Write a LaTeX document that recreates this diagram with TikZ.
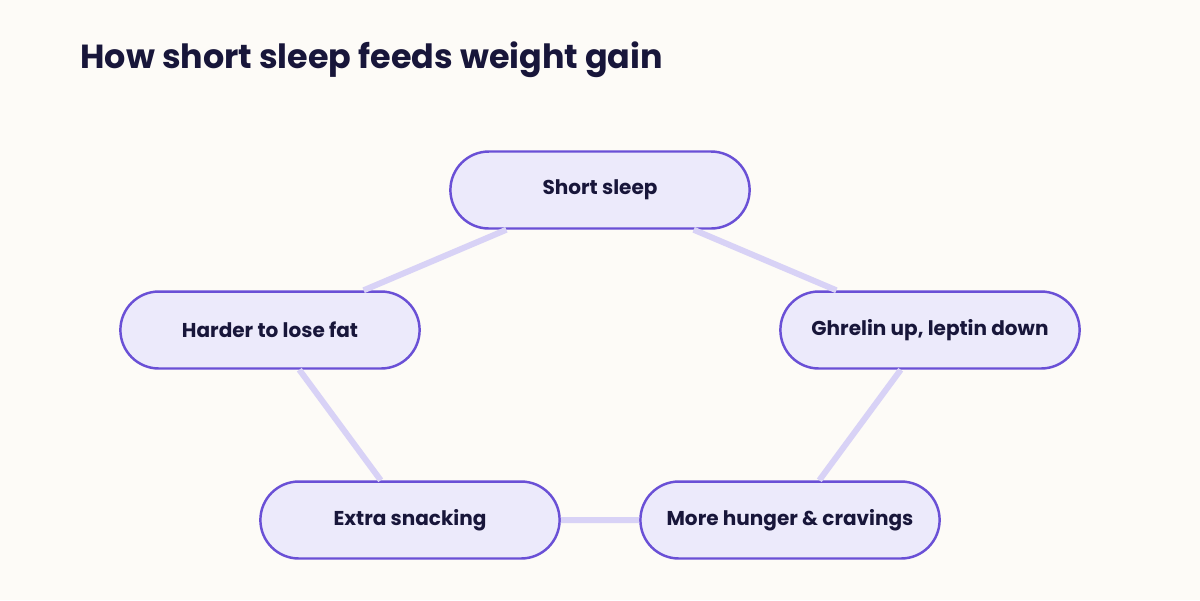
\documentclass[tikz,border=0pt]{standalone}
\usepackage{fontspec}
\setmainfont{Poppins}
\usetikzlibrary{shapes.misc}
\definecolor{bg_cream}{RGB}{253,251,247}
\definecolor{node_fill}{RGB}{236,234,251}
\definecolor{node_edge}{RGB}{106,80,214}
\definecolor{link_lav}{RGB}{216,210,246}
\definecolor{ink}{RGB}{24,22,58}
\begin{document}
\begin{tikzpicture}[x=0.02cm,y=-0.02cm]
    \tikzstyle{pill}=[draw=node_edge, line width=1.4pt, fill=node_fill, rounded rectangle, minimum width=6.22cm, minimum height=1.54cm, text=ink, font=\fontsize{11.4}{13}\selectfont\bfseries]
    \tikzstyle{link}=[draw=link_lav, line width=3.4pt]

    \fill[bg_cream] (0,0) rectangle (1200,600);
    \node[anchor=west, inner sep=0pt, text=ink, font=\fontsize{19}{22}\selectfont\bfseries] (title) at (80,60) {How short sleep feeds weight gain};

    \node[pill] (sleep)   at (600,190) {Short sleep};
    \node[pill] (harder)  at (270,330) {Harder to lose fat};
    \node[pill] (ghrelin) at (930,330) {Ghrelin up, leptin down};
    \node[pill] (snack)   at (410,520) {Extra snacking};
    \node[pill] (hunger)  at (790,520) {More hunger \& cravings};

    \path
     (sleep) edge[link] (ghrelin)
     (ghrelin) edge[link] (hunger)
     (hunger) edge[link] (snack)
     (snack) edge[link] (harder)
     (harder) edge[link] (sleep)
     ;
\end{tikzpicture}
\end{document}
